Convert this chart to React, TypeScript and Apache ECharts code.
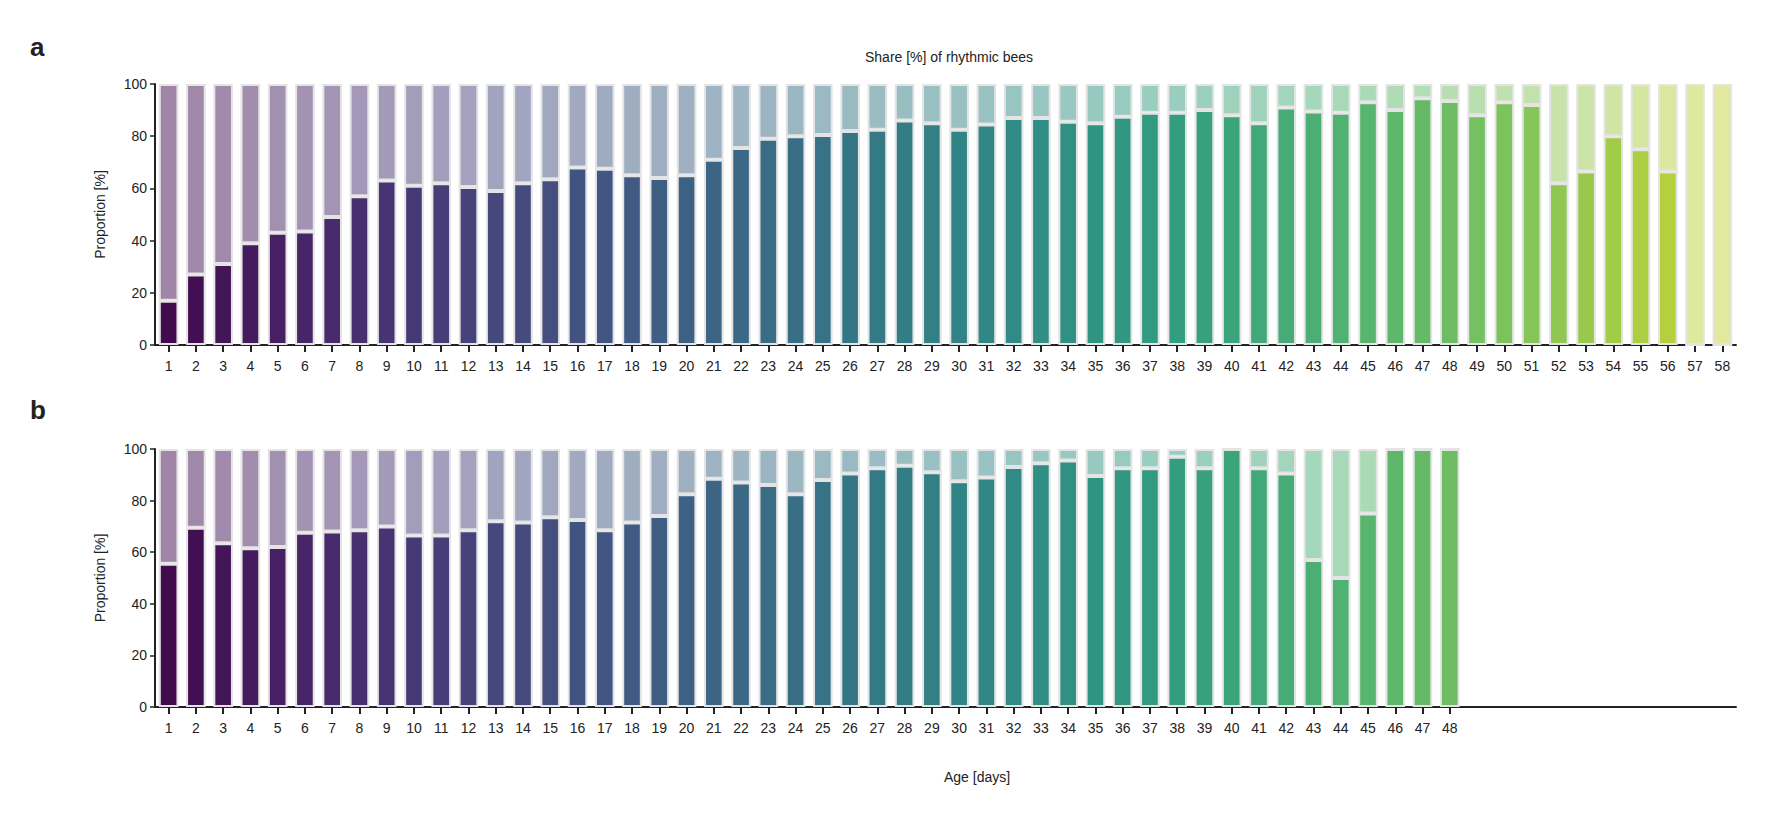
import React, { useEffect, useRef } from "react";
import * as echarts from "echarts";

const agesA = Array.from({ length: 58 }, (_, i) => String(i + 1));
const rhythmicA = [17, 27, 31, 39, 43, 43.5, 49, 57, 63, 61, 62, 60.5, 59, 62, 63.5, 68, 67.5, 65, 64, 65, 71, 75.5, 79, 80, 80.5, 82, 82.5, 86, 85, 82.5, 84.5, 87, 87, 85.5, 85, 87.5, 89, 89, 90, 88, 85, 91, 89.5, 89, 93, 90, 94.5, 93.5, 88, 93, 92, 62, 66.5, 80, 75, 66.5, 0, 0];
const rhythmicB = [55.5, 69.5, 63.5, 61.5, 62, 67.5, 68, 68.5, 70, 66.5, 66.5, 68.5, 72, 71.5, 73.5, 72.5, 68.5, 71.5, 74, 82.5, 88.5, 87, 86, 82.5, 88, 90.5, 92.5, 93.5, 91, 87.5, 89, 93, 94.5, 95.5, 89.5, 92.5, 92.5, 97, 92.5, 100, 92.5, 90.5, 57, 50, 75, 100, 100, 100];
const yTicks = [0, 20, 40, 60, 80, 100];

const VIR = ["#440154", "#482475", "#414487", "#355f8d", "#2a788e", "#21918c", "#22a884", "#44bf70", "#7ad151", "#bddf26", "#fde725"];
function hex(h: string) { return [1, 3, 5].map((i) => parseInt(h.slice(i, i + 2), 16)); }
function colorAt(t: number, lighten: number) {
  const p = Math.min(Math.max(t, 0), 1) * 10;
  const i = Math.min(Math.floor(p), 9);
  const f = p - i;
  const a = hex(VIR[i]), b = hex(VIR[i + 1]);
  let c = a.map((v, k) => v + (b[k] - v) * f);
  const g = (c[0] + c[1] + c[2]) / 3;
  c = c.map((v) => v * 0.8 + g * 0.2);
  c = c.map((v) => v * (1 - lighten) + 255 * lighten);
  return `rgb(${c.map((v) => Math.round(v)).join(",")})`;
}

const BORDER = "#e4e4e4";

function seriesFor(vals: (number | null)[], xi: number, yi: number) {
  const n = 58;
  const bottom = agesA.map((_, i) => i < vals.length ? { value: vals[i], itemStyle: { color: colorAt(i / (n - 1) * 0.93, 0) } } : null);
  const top = agesA.map((_, i) => i < vals.length ? { value: 100 - (vals[i] as number), itemStyle: { color: colorAt(i / (n - 1) * 0.93, 0.5) } } : null);
  const common = { type: "bar", stack: "s" + xi, xAxisIndex: xi, yAxisIndex: yi, barCategoryGap: "28%", itemStyle: { borderColor: BORDER, borderWidth: 2 } };
  return [{ ...common, data: bottom }, { ...common, data: top }];
}

function xAxis(grid: number, maxLabel: number) {
  return {
    type: "category", gridIndex: grid, data: agesA,
    axisLine: { lineStyle: { color: "#222", width: 2 } },
    axisTick: { show: true, alignWithLabel: true, length: 7, lineStyle: { color: "#222", width: 2 }, interval: (i: number) => i < maxLabel },
    axisLabel: { interval: 0, color: "#222", fontSize: 14, margin: 14, fontFamily: "Liberation Sans", formatter: (v: string) => (Number(v) <= maxLabel ? v : "") },
  };
}
function yAxis(grid: number) {
  return {
    type: "value", gridIndex: grid, min: 0, max: 100, interval: 20,
    name: "Proportion [%]", nameLocation: "middle", nameGap: 48,
    nameTextStyle: { color: "#222", fontSize: 14, fontFamily: "Liberation Sans" },
    axisLine: { show: true, lineStyle: { color: "#222", width: 2 } },
    axisTick: { show: true, length: 5, lineStyle: { color: "#222", width: 1.5 } },
    axisLabel: { color: "#222", fontSize: 14, fontFamily: "Liberation Sans", formatter: (v: number) => (yTicks.includes(v) ? String(v) : "") },
    splitLine: { show: false },
  };
}

export default function App() {
  const ref = useRef<HTMLDivElement>(null);
  useEffect(() => {
    document.body.style.margin = "0";
    const chart = echarts.init(ref.current!, undefined, { renderer: "svg" });
    chart.setOption({
      animation: false,
      backgroundColor: "#fff",
      title: { text: "Share [%] of rhythmic bees", left: 944, top: 45, textAlign: "center", textStyle: { fontSize: 14, fontWeight: "normal", color: "#222", fontFamily: "Liberation Sans" } },
      graphic: [
        { type: "text", left: 30, top: 34, style: { text: "a", fontSize: 26, fontWeight: "bold", fill: "#222", fontFamily: "Liberation Sans" } },
        { type: "text", left: 30, top: 397, style: { text: "b", fontSize: 26, fontWeight: "bold", fill: "#222", fontFamily: "Liberation Sans" } },
        { type: "text", left: 944, top: 770, style: { text: "Age [days]", fontSize: 14, fill: "#222", fontFamily: "Liberation Sans", align: "center" } },
      ],
      grid: [
        { left: 155, right: 30, top: 84, height: 261 },
        { left: 155, right: 30, top: 449, height: 258 },
      ],
      xAxis: [xAxis(0, 58), xAxis(1, 48)],
      yAxis: [yAxis(0), yAxis(1)],
      series: [...seriesFor(rhythmicA, 0, 0), ...seriesFor(rhythmicB, 1, 1)],
    });
    return () => chart.dispose();
  }, []);
  return <div ref={ref} style={{ width: 1766, height: 822 }} />;
}
